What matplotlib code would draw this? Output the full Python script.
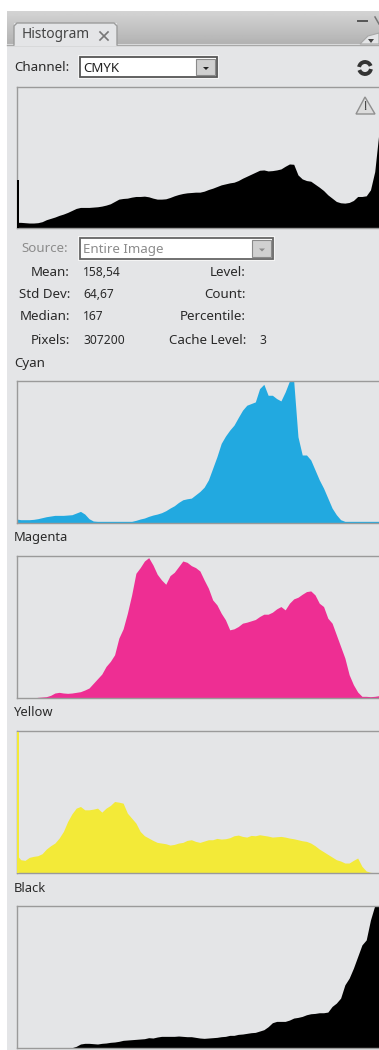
#!/usr/bin/env python3
"""Photoshop-style CMYK histogram panel."""

import matplotlib
matplotlib.use("Agg")
import matplotlib.pyplot as plt
from matplotlib.patches import Polygon, Rectangle, Arc
import numpy as np

W, H = 379, 1050
plt.rcParams["font.family"] = ["Noto Sans", "DejaVu Sans"]

# every array holds one height per 3 levels (0, 3, 6 ... 255)
cmyk_vals = [17, 17, 16, 15, 15, 16, 19, 25, 29, 33, 38, 42, 47, 53, 59, 62, 62, 62, 63, 64, 66, 69,
             73, 80, 87, 89, 90, 93, 95, 95, 96, 94, 90, 87, 87, 88, 92, 97, 101, 104, 106, 107, 108,
             108, 111, 116, 120, 125, 130, 133, 136, 138, 143, 150, 156, 162, 168, 174, 175, 172, 173,
             175, 178, 186, 193, 192, 160, 148, 143, 141, 132, 123, 113, 100, 90, 80, 76, 75, 77, 83,
             95, 95, 97, 115, 170, 290]
cyan_vals = [12, 10, 10, 10, 11, 13, 16, 19, 21, 23, 23, 23, 24, 25, 30, 35, 27, 13, 6, 5, 5, 5, 5, 5,
             5, 5, 5, 5, 8, 12, 15, 20, 24, 27, 31, 37, 45, 52, 62, 70, 73, 75, 85, 95, 108, 130, 165,
             200, 240, 262, 280, 295, 318, 340, 355, 360, 365, 405, 418, 385, 385, 375, 368, 395, 428,
             428, 260, 205, 205, 190, 160, 130, 105, 75, 45, 25, 10, 5, 5, 5, 5, 5, 5, 5, 5, 5]
magenta_vals = [0, 0, 0, 0, 0, 2, 3, 4, 8, 15, 17, 15, 14, 15, 17, 19, 24, 30, 44, 58, 72, 95, 110, 130,
                180, 208, 255, 310, 375, 392, 412, 422, 400, 372, 355, 342, 368, 378, 395, 412, 408,
                398, 392, 382, 355, 330, 295, 280, 255, 235, 205, 208, 215, 225, 228, 232, 236, 245,
                252, 252, 258, 268, 275, 265, 285, 298, 303, 312, 320, 322, 310, 285, 275, 240, 225,
                190, 155, 120, 70, 40, 18, 5, 5, 4, 5, 7]
yellow_vals = [55, 40, 38, 47, 50, 52, 58, 72, 82, 90, 105, 125, 155, 178, 195, 200, 190, 190, 192, 195,
               183, 195, 203, 215, 213, 210, 180, 165, 150, 125, 112, 105, 98, 92, 90, 88, 84, 86, 90,
               92, 98, 100, 95, 92, 96, 100, 100, 104, 102, 103, 106, 112, 114, 110, 108, 113, 112, 115,
               113, 111, 108, 109, 110, 108, 105, 103, 100, 97, 95, 90, 82, 72, 64, 56, 48, 40, 36, 30,
               30, 38, 45, 20, 6, 2, 1, 0]
black_vals = [0, 0, 0, 0, 0, 0, 0, 0, 0, 0, 0, 0, 0, 1, 5, 12, 14, 14, 13, 12, 14, 15, 17, 18, 20, 23,
              24, 25, 26, 27, 28, 31, 30, 33, 35, 35, 35, 35, 36, 35, 34, 34, 32, 30, 29, 30, 31, 32,
              34, 35, 38, 38, 41, 42, 44, 46, 47, 51, 55, 64, 76, 80, 80, 80, 84, 90, 92, 95, 100, 103,
              104, 106, 106, 108, 125, 135, 150, 190, 210, 240, 275, 310, 325, 385, 428, 428]
cmyk_spike = 145
yellow_spike = 425
stat_labels = ["Mean:", "Std Dev:", "Median:", "Pixels:"]
stat_values = ["158,54", "64,67", "167", "307200"]
info_labels = ["Level:", "Count:", "Percentile:", "Cache Level:"]

panel = "#e4e5e7"
frame = "#9a9a9a"
txt = "#2a2a2a"

fig = plt.figure(figsize=(W / 100, H / 100), dpi=100, facecolor="white")
ui = fig.add_axes([0, 0, 1, 1])
ui.set_xlim(0, W)
ui.set_ylim(H, 0)
ui.axis("off")


def rect(x0, y0, x1, y1, fc, ec="none", lw=0, z=1):
    ui.add_patch(Rectangle((x0, y0), x1 - x0, y1 - y0, facecolor=fc, edgecolor=ec, linewidth=lw, zorder=z))


def label(x, y, s, ha="left", color=txt, size=9.6):
    ui.text(x, y, s, ha=ha, va="center", color=color, fontsize=size, zorder=6)


def dropdown(x0, y0, x1, y1, s, color, btn_edge):
    rect(x0 - 1, y0 - 1, x1 + 1, y1 + 1, "#f4f4f4", z=2)
    rect(x0 + 1, y0 + 1, x1 - 1, y1 - 1, "white", ec=btn_edge, lw=1.3, z=3)
    rect(x1 - 22, y0 + 3, x1 - 3, y1 - 3, "#d0d0d0", ec="#8a8a8a", lw=0.8, z=4)
    cx = x1 - 12
    cy = (y0 + y1) / 2 + 1
    ui.add_patch(Polygon([(cx - 3, cy - 1), (cx + 3, cy - 1), (cx, cy + 2)], facecolor=color, zorder=5))
    label(x0 + 4, (y0 + y1) / 2 + 1, s, color=color)


def histogram(top, bottom, vals, color, ymax, spike=None):
    ax = fig.add_axes([16.5 / W, 1 - bottom / H, (W - 16.5) / W, (bottom - top) / H])
    levels = np.arange(len(vals)) * 3
    ax.fill_between(levels, 0, vals, color=color, linewidth=0)
    if spike is not None:
        ax.bar([1], [spike], width=2, color=color, linewidth=0, zorder=5)
    ax.set_xlim(0, 255)
    ax.set_ylim(0, ymax)
    ax.set_facecolor(panel)
    ax.set_xticks([])
    ax.set_yticks([])
    for side in ax.spines.values():
        side.set_color(frame)
        side.set_linewidth(1.0)
    ax.spines["right"].set_visible(False)


# panel body and tab strip
rect(7, 11, W, H, panel)
ui.imshow(np.linspace(0.83, 0.70, 40).reshape(-1, 1), cmap="gray", vmin=0, vmax=1,
          extent=(7, W, 44, 11), aspect="auto", zorder=1)
ui.set_xlim(0, W)
ui.set_ylim(H, 0)
ui.plot([7, W], [44.5, 44.5], color="#a8a8a8", lw=1, zorder=2)
rect(14, 23, 117, 46, panel, z=3)
ui.plot([14, 14, 17, 114, 117, 117], [45, 26, 23, 23, 26, 45], color="#9c9c9c", lw=1, zorder=4)
label(22, 35, "Histogram", color="#444444", size=9.9)
ui.plot([100, 108], [32, 40], color="#777777", lw=1.2, zorder=5)
ui.plot([100, 108], [40, 32], color="#777777", lw=1.2, zorder=5)
ui.plot([358, 367], [21, 21], color="#555555", lw=1.4, zorder=5)
ui.plot([375, 379], [17, 24], color="#777777", lw=1.1, zorder=5)
ui.add_patch(Polygon([(360, 44), (368, 36), (W, 33), (W, 44)], facecolor=panel, edgecolor="#a8a8a8", lw=0.8, zorder=4))
ui.add_patch(Polygon([(368, 39), (374, 39), (371, 43)], facecolor="#444444", zorder=5))

# controls
label(14, 67.5, "Channel:")
dropdown(79, 56, 218, 78, "CMYK", "#222222", "#555555")
ui.add_patch(Arc((365, 68), 12, 12, theta1=190, theta2=340, color="#333333", lw=2.8, zorder=5))
ui.add_patch(Arc((365, 68), 12, 12, theta1=10, theta2=160, color="#333333", lw=2.8, zorder=5))

histogram(87, 228, cmyk_vals, "black", 425, spike=cmyk_spike)

label(21, 248, "Source:", color="#8c8c8c")
dropdown(79, 237, 274, 260, "Entire Image", "#8c8c8c", "#666666")
for y, a, b, c in zip([272, 295, 317, 340], stat_labels, stat_values, info_labels):
    label(70, y, a, ha="right")
    label(83, y, b, size=8.7)
    label(246, y, c, ha="right")
label(259, 340, "3", size=8.7)

# channel histograms
label(14, 363, "Cyan")
histogram(381, 523, cyan_vals, "#22a9e0", 428)
label(14, 538, "Magenta", size=9.3)
histogram(556, 698, magenta_vals, "#ee2e93", 427)
label(14, 713, "Yellow", size=9.3)
histogram(731, 873, yellow_vals, "#f3ea38", 427, spike=yellow_spike)
label(14, 888, "Black", size=9.3)
histogram(906, 1048, black_vals, "black", 427)

# warning icon sits on top of the first histogram
over = fig.add_axes([0, 0, 1, 1], zorder=10)
over.set_xlim(0, W)
over.set_ylim(H, 0)
over.axis("off")
over.add_patch(Polygon([(365, 97), (356, 114), (375, 114)], facecolor="#dcdcdc", edgecolor="#8f8f8f", lw=1))
over.text(365, 107, "!", ha="center", va="center", color="#333333", fontsize=9, fontweight="bold")

fig.savefig("out.png", dpi=100, facecolor="white")
